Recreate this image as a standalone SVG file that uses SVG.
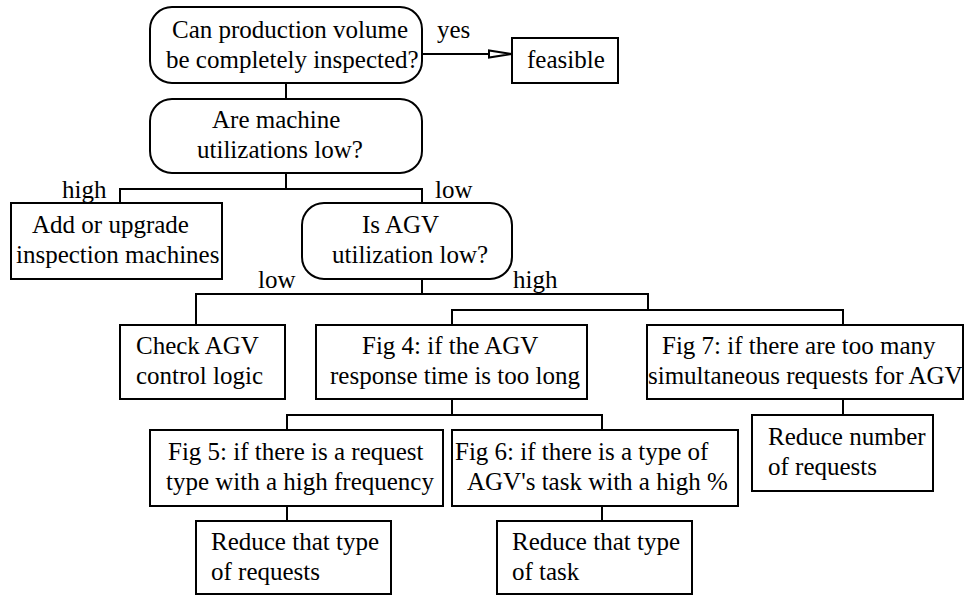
<svg xmlns="http://www.w3.org/2000/svg" width="966" height="596" viewBox="0 0 966 596">
<style>
.b{fill:#fff;stroke:#000;stroke-width:2}
.c{fill:none;stroke:#000;stroke-width:2}
text{font-size:25px;fill:#000}
</style>
<rect width="966" height="596" fill="#fff"/>
<g font-family="'Liberation Serif', 'Times New Roman', 'DejaVu Serif', serif">
<g id="connectors">
<line class="c" x1="422" y1="54" x2="512" y2="54"/>
<polygon points="512,54 489,50.5 489,57.5" fill="#fff" stroke="#000" stroke-width="2"/>
<line class="c" x1="286" y1="83" x2="286" y2="99"/>
<polyline class="c" points="120,203 120,189 422,189 422,203"/>
<line class="c" x1="286" y1="173" x2="286" y2="189"/>
<polyline class="c" points="196,325 196,294 648,294 648,310"/>
<line class="c" x1="422" y1="279" x2="422" y2="294"/>
<polyline class="c" points="452,325 452,310 843,310 843,325"/>
<line class="c" x1="843" y1="399" x2="843" y2="415"/>
<polyline class="c" points="287,430 287,415 602,415 602,430"/>
<line class="c" x1="452" y1="399" x2="452" y2="415"/>
<line class="c" x1="287" y1="506" x2="287" y2="521"/>
<line class="c" x1="602" y1="506" x2="602" y2="521"/>
<text x="437" y="38">yes</text>
<text x="62" y="198">high</text>
<text x="435" y="198">low</text>
<text x="258" y="288">low</text>
<text x="513" y="288">high</text>
</g>
<g id="n1">
<rect class="b" x="150" y="7" width="272" height="76" rx="22"/>
<text x="172" y="38">Can production volume</text>
<text x="166" y="68">be completely inspected?</text>
</g>
<g id="feasible">
<rect class="b" x="512" y="38" width="106" height="45"/>
<text x="527" y="68">feasible</text>
</g>
<g id="n2">
<rect class="b" x="150" y="99" width="272" height="74" rx="22"/>
<text x="212" y="128">Are machine</text>
<text x="197" y="158">utilizations low?</text>
</g>
<g id="addUpgrade">
<rect class="b" x="11" y="203" width="211" height="76"/>
<text x="32" y="233">Add or upgrade</text>
<text x="16" y="263">inspection machines</text>
</g>
<g id="agvUtil">
<rect class="b" x="302" y="203" width="210" height="76" rx="22"/>
<text x="362" y="233">Is AGV</text>
<text x="332" y="263">utilization low?</text>
</g>
<g id="checkAGV">
<rect class="b" x="120" y="325" width="165" height="74"/>
<text x="136" y="354">Check AGV</text>
<text x="136" y="384">control logic</text>
</g>
<g id="fig4">
<rect class="b" x="316" y="325" width="271" height="74"/>
<text x="362" y="354">Fig 4: if the AGV</text>
<text x="330" y="384">response time is too long</text>
</g>
<g id="fig7">
<rect class="b" x="647" y="325" width="316" height="74"/>
<text x="662" y="354">Fig 7: if there are too many</text>
<text x="648" y="384">simultaneous requests for AGV</text>
</g>
<g id="reduceNumber">
<rect class="b" x="752" y="415" width="181" height="76"/>
<text x="768" y="445">Reduce number</text>
<text x="768" y="475">of requests</text>
</g>
<g id="fig5">
<rect class="b" x="150" y="430" width="293" height="76"/>
<text x="168" y="460">Fig 5: if there is a request</text>
<text x="166" y="490">type with a high frequency</text>
</g>
<g id="fig6">
<rect class="b" x="452" y="430" width="286" height="76"/>
<text x="455" y="460">Fig 6: if there is a type of</text>
<text x="467" y="490">AGV's task with a high %</text>
</g>
<g id="reduceRequests">
<rect class="b" x="196" y="521" width="195" height="73"/>
<text x="211" y="550">Reduce that type</text>
<text x="211" y="580">of requests</text>
</g>
<g id="reduceTask">
<rect class="b" x="497" y="521" width="195" height="73"/>
<text x="512" y="550">Reduce that type</text>
<text x="512" y="580">of task</text>
</g>
</g>
</svg>
